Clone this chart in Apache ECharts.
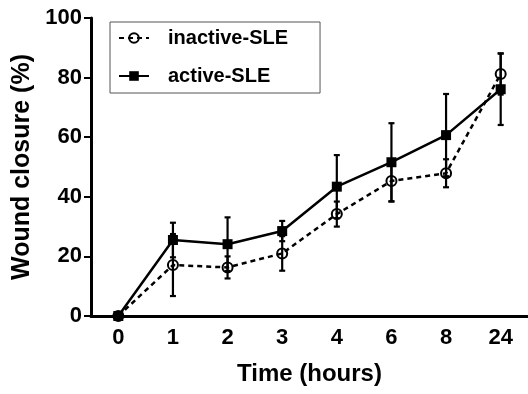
<!DOCTYPE html>
<html>
<head>
<meta charset="utf-8">
<script src="https://cdn.jsdelivr.net/npm/echarts@6/dist/echarts.min.js"></script>
<style>
  html, body { margin: 0; padding: 0; background: #fff; }
  #chart { width: 528px; height: 394px; }
</style>
</head>
<body>
<div id="chart"></div>
<script>
// time points (hours) and wound closure (%), mean and SD
const hours = ['0', '1', '2', '3', '4', '6', '8', '24']
const inactiveMean = [0, 17.1, 16.3, 21.0, 34.2, 45.3, 47.9, 81.2]
const inactiveSd = [0, 10.4, 3.7, 5.8, 4.2, 6.9, 4.7, 6.9]
const activeMean = [0, 25.5, 24.1, 28.5, 43.4, 51.6, 60.7, 76.1]
const activeSd = [0, 5.8, 9.0, 3.4, 10.6, 13.1, 13.8, 12.0]
const yTicks = [0, 20, 40, 60, 80, 100]

const font = "'Liberation Sans', Arial, sans-serif"

function errorData(mean, sd) {
    let out = []
    for (let i = 0; i < mean.length; i++) {
        if (sd[i] > 0) out.push([i, mean[i] - sd[i], mean[i] + sd[i]])
    }
    return out
}

function renderErrorBar(params, api) {
    let lo = api.coord([api.value(0), api.value(1)])
    let hi = api.coord([api.value(0), api.value(2)])
    let w = 3
    let style = { stroke: '#000', lineWidth: 2.2 }
    return {
        type: 'group',
        children: [
            { type: 'line', shape: { x1: lo[0], y1: lo[1], x2: hi[0], y2: hi[1] }, style: style },
            { type: 'line', shape: { x1: lo[0] - w, y1: lo[1], x2: lo[0] + w, y2: lo[1] }, style: style },
            { type: 'line', shape: { x1: hi[0] - w, y1: hi[1], x2: hi[0] + w, y2: hi[1] }, style: style }
        ]
    }
}

let chart = echarts.init(document.getElementById('chart'))
let option = {
    animation: false,
    backgroundColor: '#fff',
    grid: { left: 91, right: 0, top: 18, bottom: 78, outerBoundsMode: 'none', containLabel: false },
    legend: {
        data: ['inactive-SLE', 'active-SLE'],
        orient: 'vertical',
        left: 110,
        top: 22,
        padding: [6, 32, 7, 8],
        itemGap: 18,
        itemWidth: 30,
        itemHeight: 12,
        borderColor: '#555',
        borderWidth: 1,
        textStyle: {
            fontFamily: font, fontWeight: 'bold', fontSize: 20,
            color: '#000', lineHeight: 20, padding: [0, 0, 0, 14]
        }
    },
    xAxis: {
        type: 'category',
        data: hours,
        boundaryGap: true,
        name: 'Time (hours)',
        nameLocation: 'middle',
        nameGap: 46,
        nameTextStyle: { fontFamily: font, fontWeight: 'bold', fontSize: 24, color: '#000' },
        axisLine: { lineStyle: { color: '#000', width: 3 } },
        axisTick: { alignWithLabel: true, length: 6, lineStyle: { width: 2, color: '#000' } },
        axisLabel: { fontFamily: font, fontWeight: 'bold', fontSize: 22, color: '#000', margin: 11 },
        splitLine: { show: false }
    },
    yAxis: {
        type: 'value',
        min: yTicks[0],
        max: yTicks[yTicks.length - 1],
        interval: yTicks[1] - yTicks[0],
        name: 'Wound closure (%)',
        nameLocation: 'middle',
        nameGap: 47,
        nameTextStyle: { fontFamily: font, fontWeight: 'bold', fontSize: 25, color: '#000' },
        axisLine: { show: true, lineStyle: { color: '#000', width: 3 } },
        axisTick: { show: true, length: 7, lineStyle: { width: 2, color: '#000' } },
        axisLabel: { fontFamily: font, fontWeight: 'bold', fontSize: 22, color: '#000', margin: 9 },
        splitLine: { show: false }
    },
    series: [
        {
            name: 'inactive-SLE',
            type: 'line',
            data: inactiveMean,
            symbol: 'circle',
            symbolSize: 10,
            z: 3,
            lineStyle: { color: '#000', width: 2.5, type: [5, 4] },
            itemStyle: { color: 'rgba(255,255,255,0)', borderColor: '#000', borderWidth: 2 }
        },
        {
            name: 'active-SLE',
            type: 'line',
            data: activeMean,
            symbol: 'rect',
            symbolSize: 10,
            z: 4,
            lineStyle: { color: '#000', width: 2.5 },
            itemStyle: { color: '#000' }
        },
        {
            name: 'inactive-err',
            type: 'custom',
            renderItem: renderErrorBar,
            data: errorData(inactiveMean, inactiveSd),
            z: 2
        },
        {
            name: 'active-err',
            type: 'custom',
            renderItem: renderErrorBar,
            data: errorData(activeMean, activeSd),
            z: 2
        }
    ]
}
chart.setOption(option)
</script>
</body>
</html>
